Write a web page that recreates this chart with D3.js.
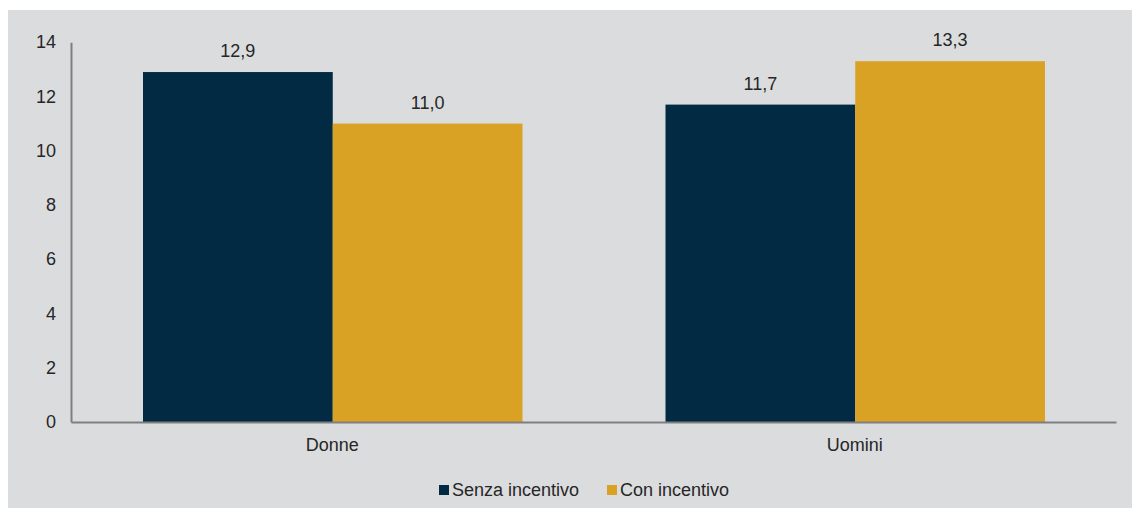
<!DOCTYPE html>
<html>
<head>
<meta charset="utf-8">
<script src="https://cdn.jsdelivr.net/npm/d3@7"></script>
<style>
  body { margin: 0; background: #fff; }
  text { font-family: "Liberation Sans", Arial, sans-serif; }
</style>
</head>
<body>
<svg id="chart" width="1132" height="508"></svg>
<script>
const categories = ["Donne", "Uomini"];
const seriesNames = ["Senza incentivo", "Con incentivo"];
const senza = [12.9, 11.7];
const con = [11.0, 13.3];
const yTicks = [0, 2, 4, 6, 8, 10, 12, 14];
const colors = ["#022a43", "#d9a224"];

const svg = d3.select("#chart");

// grey panel
svg.append("rect")
  .attr("x", 8).attr("y", 10)
  .attr("width", 1124).attr("height", 498)
  .attr("fill", "#dbdcde");

const x = d3.scaleBand().domain(categories).range([71, 1116]);
const xs = d3.scaleBand().domain(seriesNames)
  .range([72, x.bandwidth() - 71]);
const y = d3.scaleLinear().domain([0, 14]).range([422, 42.2]);

const rows = categories.map((c, i) => ({ cat: c, vals: [senza[i], con[i]] }));

const groups = svg.selectAll(".grp").data(rows).enter().append("g")
  .attr("transform", d => `translate(${x(d.cat)},0)`);

groups.selectAll("rect").data(d => d.vals.map((v, j) => ({ v, s: seriesNames[j], j })))
  .enter().append("rect")
  .attr("x", d => xs(d.s))
  .attr("y", d => y(d.v))
  .attr("width", xs.bandwidth())
  .attr("height", d => y(0) - y(d.v))
  .attr("fill", d => colors[d.j]);

groups.selectAll(".lbl").data(d => d.vals.map((v, j) => ({ v, s: seriesNames[j] })))
  .enter().append("text")
  .attr("x", d => xs(d.s) + xs.bandwidth() / 2)
  .attr("y", d => y(d.v) - 15)
  .attr("text-anchor", "middle")
  .attr("font-size", 18)
  .attr("fill", "#262626")
  .text(d => d3.format(".1f")(d.v).replace(".", ","));

// y axis
svg.append("g")
  .attr("transform", "translate(71,0)")
  .call(d3.axisLeft(y).tickValues(yTicks).tickSize(0).tickPadding(15))
  .call(g => g.select(".domain").attr("stroke", "#7f7f7f").attr("stroke-width", 2))
  .call(g => g.selectAll("text").attr("font-size", 18).attr("fill", "#262626")
    .style("font-family", "'Liberation Sans', Arial, sans-serif"));

// x axis
svg.append("g")
  .attr("transform", "translate(0,422)")
  .call(d3.axisBottom(x).tickSize(0).tickPadding(16))
  .call(g => g.select(".domain").attr("stroke", "#7f7f7f").attr("stroke-width", 2))
  .call(g => g.selectAll("text").attr("font-size", 18).attr("fill", "#262626")
    .style("font-family", "'Liberation Sans', Arial, sans-serif"));

// legend
const legendX = [439, 607];
const legend = svg.selectAll(".leg").data(seriesNames).enter().append("g")
  .attr("transform", (d, i) => `translate(${legendX[i]},485)`);
legend.append("rect")
  .attr("width", 10).attr("height", 10)
  .attr("fill", (d, i) => colors[i]);
legend.append("text")
  .attr("x", 13).attr("y", 11)
  .attr("font-size", 18)
  .attr("fill", "#262626")
  .text(d => d);
</script>
</body>
</html>
